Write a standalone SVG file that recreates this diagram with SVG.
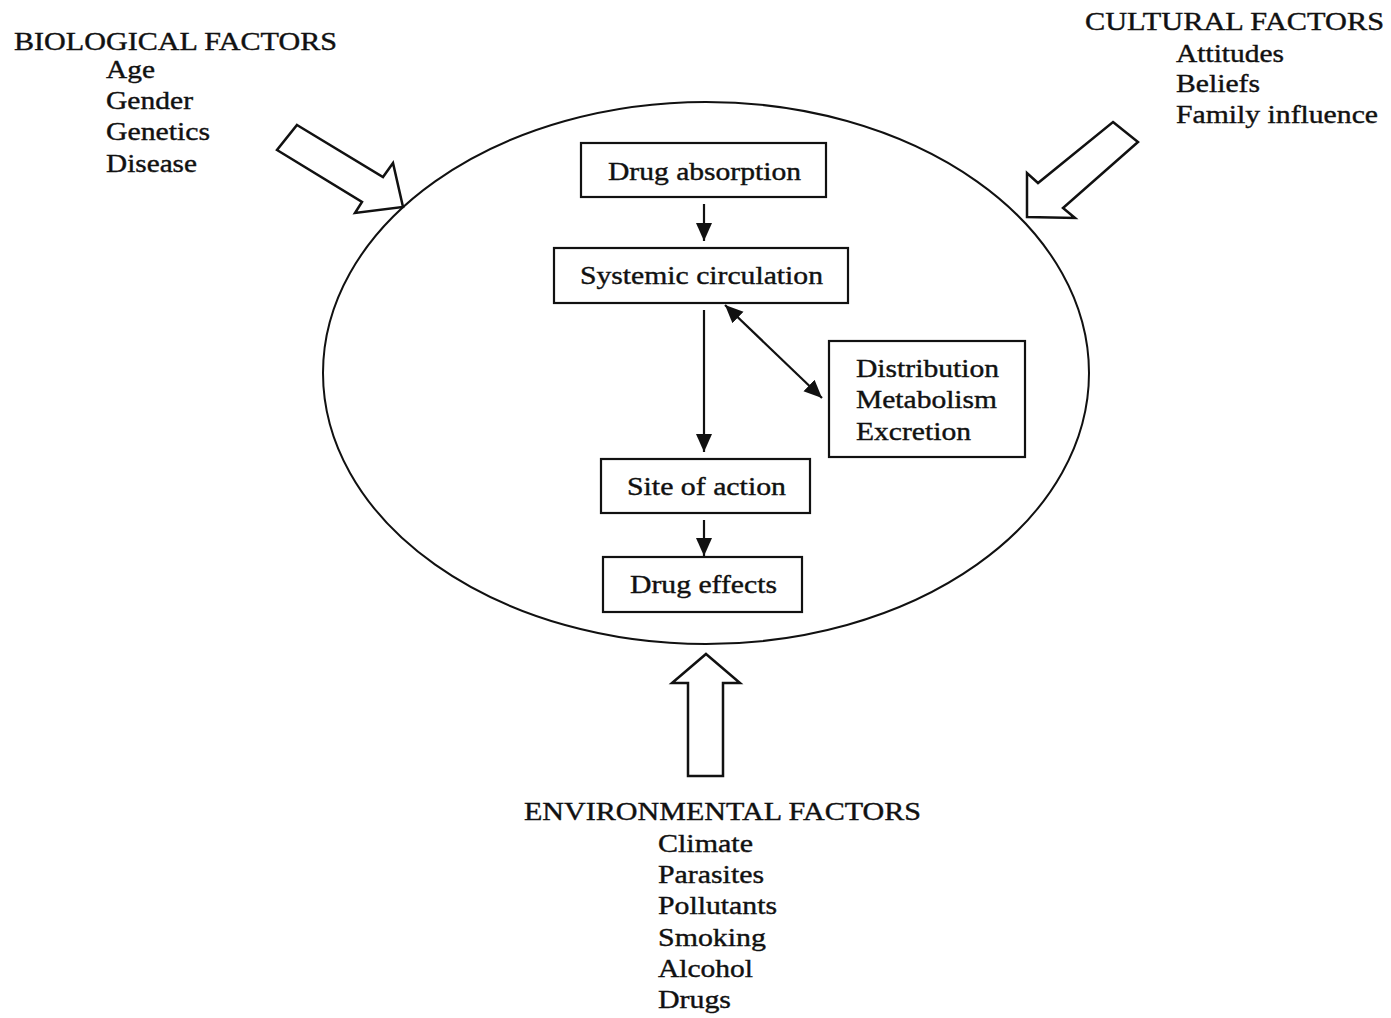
<svg xmlns="http://www.w3.org/2000/svg" width="1391" height="1018" viewBox="0 0 1391 1018">
<style>
text{font-family:"Liberation Serif","Times New Roman",serif;font-size:26px;fill:#111;stroke:#111;stroke-width:0.4}
.box{fill:#fff;stroke:#111;stroke-width:2.2}
.blk{fill:#fff;stroke:#111;stroke-width:2.5;stroke-linejoin:miter}
.con{stroke:#111;stroke-width:2.2;fill:none}
</style>
<defs>
<marker id="ah" markerWidth="18" markerHeight="18" refX="18" refY="9" orient="auto-start-reverse" markerUnits="userSpaceOnUse">
<path d="M0,1 L18,9 L0,17 Z" fill="#111"/>
</marker>
</defs>
<rect width="1391" height="1018" fill="#fff"/>
<g id="ellipse"><ellipse cx="706" cy="373" rx="383" ry="271" fill="none" stroke="#111" stroke-width="2"/></g>
<g id="biological">
<text x="14" y="50" textLength="323" lengthAdjust="spacingAndGlyphs">BIOLOGICAL FACTORS</text>
<text x="106" y="78" textLength="49" lengthAdjust="spacingAndGlyphs">Age</text>
<text x="106" y="109" textLength="87" lengthAdjust="spacingAndGlyphs">Gender</text>
<text x="106" y="140" textLength="104" lengthAdjust="spacingAndGlyphs">Genetics</text>
<text x="106" y="172" textLength="91" lengthAdjust="spacingAndGlyphs">Disease</text>
</g>
<g id="cultural">
<text x="1085" y="30" textLength="299" lengthAdjust="spacingAndGlyphs">CULTURAL FACTORS</text>
<text x="1176" y="62" textLength="108" lengthAdjust="spacingAndGlyphs">Attitudes</text>
<text x="1176" y="92" textLength="84" lengthAdjust="spacingAndGlyphs">Beliefs</text>
<text x="1176" y="123" textLength="202" lengthAdjust="spacingAndGlyphs">Family influence</text>
</g>
<g id="environmental">
<text x="524" y="820" textLength="397" lengthAdjust="spacingAndGlyphs">ENVIRONMENTAL FACTORS</text>
<text x="658" y="852" textLength="95" lengthAdjust="spacingAndGlyphs">Climate</text>
<text x="658" y="883" textLength="106" lengthAdjust="spacingAndGlyphs">Parasites</text>
<text x="658" y="914" textLength="119" lengthAdjust="spacingAndGlyphs">Pollutants</text>
<text x="658" y="946" textLength="108" lengthAdjust="spacingAndGlyphs">Smoking</text>
<text x="658" y="977" textLength="95" lengthAdjust="spacingAndGlyphs">Alcohol</text>
<text x="658" y="1008" textLength="73" lengthAdjust="spacingAndGlyphs">Drugs</text>
</g>
<g id="arrow-bio"><polygon class="blk" points="297,125 383,177 393,163 403,207 355,213 362,202 277,150"/></g>
<g id="arrow-cult"><polygon class="blk" points="1113,122 1138,142 1063,208 1075,218 1027,217 1027,173 1038,183"/></g>
<g id="arrow-env"><polygon class="blk" points="706,654 740,683 723,683 723,776 688,776 688,683 672,683"/></g>
<g id="drug-absorption"><rect class="box" x="581" y="143" width="245" height="54"/>
<text x="608" y="180" textLength="193" lengthAdjust="spacingAndGlyphs">Drug absorption</text></g>
<g id="systemic-circulation"><rect class="box" x="554" y="248" width="294" height="55"/>
<text x="580" y="284" textLength="243" lengthAdjust="spacingAndGlyphs">Systemic circulation</text></g>
<g id="dme"><rect class="box" x="829" y="341" width="196" height="116"/>
<text x="856" y="377" textLength="143" lengthAdjust="spacingAndGlyphs">Distribution</text>
<text x="856" y="408" textLength="141" lengthAdjust="spacingAndGlyphs">Metabolism</text>
<text x="856" y="440" textLength="115" lengthAdjust="spacingAndGlyphs">Excretion</text></g>
<g id="site-of-action"><rect class="box" x="601" y="459" width="209" height="54"/>
<text x="627" y="495" textLength="159" lengthAdjust="spacingAndGlyphs">Site of action</text></g>
<g id="drug-effects"><rect class="box" x="603" y="557" width="199" height="55"/>
<text x="630" y="593" textLength="147" lengthAdjust="spacingAndGlyphs">Drug effects</text></g>
<g id="connectors">
<line class="con" x1="704" y1="204" x2="704" y2="241" marker-end="url(#ah)"/>
<line class="con" x1="704" y1="310" x2="704" y2="452" marker-end="url(#ah)"/>
<line class="con" x1="725" y1="305" x2="822" y2="398" marker-start="url(#ah)" marker-end="url(#ah)"/>
<line class="con" x1="704" y1="520" x2="704" y2="556" marker-end="url(#ah)"/>
</g>
</svg>
